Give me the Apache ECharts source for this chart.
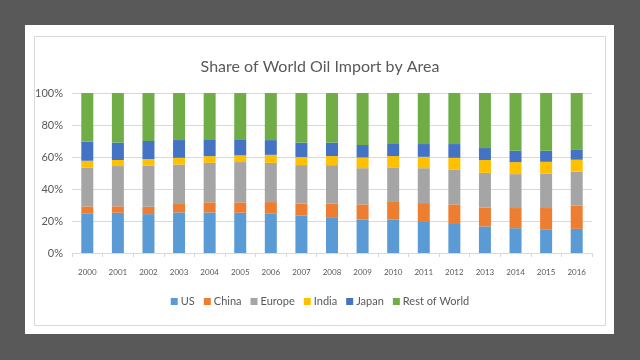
<!DOCTYPE html>
<html><head><meta charset="utf-8">
<script src="https://cdn.jsdelivr.net/npm/echarts@6/dist/echarts.min.js"></script>
<style>html,body{margin:0;padding:0;background:#595959}#c{width:640px;height:360px}</style>
</head><body><div id="c"></div>
<script>
const years = ['2000','2001','2002','2003','2004','2005','2006','2007','2008','2009','2010','2011','2012','2013','2014','2015','2016'];
const US     = [24.5,25.2,24.3,25.4,25.4,25.2,24.5,23.3,22.4,20.8,20.8,19.9,18.7,16.6,15.5,14.5,15.1];
const China  = [4.6,4.0,4.6,5.2,6.3,6.5,7.3,7.5,8.4,9.6,11.1,11.3,11.7,11.7,12.6,13.6,14.5];
const Europe = [24.3,25.2,25.6,24.7,24.7,25.2,24.5,24.1,24.1,22.6,21.6,21.8,21.8,21.8,21.2,21.6,21.2];
const India  = [4.2,3.8,4.2,4.2,4.2,4.2,5.0,5.0,5.7,6.7,7.1,7.1,7.3,8.0,7.5,7.3,7.5];
const Japan  = [11.9,10.9,11.3,11.1,10.1,9.6,9.2,9.0,8.4,7.8,8.0,8.0,8.6,7.5,7.1,6.9,6.5];
const RestOfWorld = [30.4,31.0,30.0,29.4,29.4,29.4,29.4,31.0,31.0,32.5,31.4,31.9,31.9,34.4,36.1,36.1,35.2];
const seriesNames = ['US','China','Europe','India','Japan','Rest of World'];
const seriesData = [US,China,Europe,India,Japan,RestOfWorld];
const colors = ['#5b9bd5','#ed7d31','#a5a5a5','#ffc000','#4472c4','#70ad47'];

const totals = years.map((_,i)=>seriesData.reduce((s,a)=>s+a[i],0));
const chart = echarts.init(document.getElementById('c'));
chart.setOption({
  backgroundColor:'#595959',
  animation:false,
  color:colors,
  graphic:[
    {type:'rect',shape:{x:25,y:25,width:589,height:309},style:{fill:'#ffffff'},z:-10},
    {type:'rect',shape:{x:34.5,y:36.5,width:571,height:289},style:{fill:'#ffffff',stroke:'#d9d9d9',lineWidth:1},z:-9}
  ],
  title:{text:'Share of World Oil Import by Area',left:'center',top:54,
    textStyle:{fontFamily:'Lato',fontWeight:'normal',fontSize:16,color:'#595959'}},
  legend:{bottom:48,left:'center',itemWidth:7,itemHeight:7,itemGap:9,icon:'rect',
    textStyle:{fontFamily:'Lato',fontSize:11,color:'#595959',padding:[0,0,0,-2]},data:seriesNames},
  grid:{left:72,right:48,top:93,bottom:107},
  xAxis:{type:'category',data:years,
    axisLine:{lineStyle:{color:'#d9d9d9'}},
    axisTick:{show:true,length:4,lineStyle:{color:'#d9d9d9'}},
    axisLabel:{fontFamily:'Lato',fontSize:8,color:'#595959',margin:15}},
  yAxis:{type:'value',min:0,max:100,interval:20,
    axisLabel:{formatter:'{value}%',fontFamily:'Lato',fontSize:11,color:'#595959',margin:9},
    axisLine:{show:false},axisTick:{show:false},
    splitLine:{lineStyle:{color:'#d9d9d9'}}},
  series:seriesNames.map((n,k)=>({
    name:n,type:'bar',stack:'s',barWidth:12,
    data:seriesData[k].map((v,i)=>+(v*100/totals[i]).toFixed(2))
  }))
});
</script></body></html>
